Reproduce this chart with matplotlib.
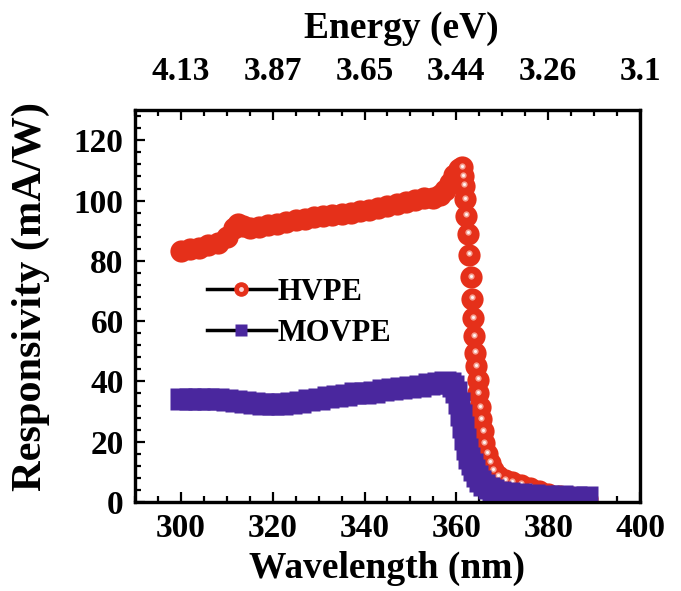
import matplotlib
matplotlib.use("Agg")
import matplotlib.pyplot as plt
import numpy as np
from matplotlib.lines import Line2D
from matplotlib.legend_handler import HandlerTuple
from matplotlib.ticker import MultipleLocator

plt.rcParams["font.family"] = ["Liberation Serif", "DejaVu Serif"]
plt.rcParams["font.weight"] = "bold"

# HVPE responsivity (mA/W) vs wavelength (nm)
hvpe_wl = [300, 302, 304, 306, 308, 310, 311.5, 312.5, 313.5, 315, 317, 319,
           321, 323, 325, 327, 329, 331, 333, 335, 337, 339, 341, 343, 345,
           347, 349, 351, 353, 355, 356.5, 357.5, 358.5, 359.5, 360.5,
           361.2, 361.5, 361.6, 361.9, 362.2, 362.5, 362.8, 363.2, 363.5,
           363.7, 363.9, 364.1, 364.3, 364.6, 364.8, 365.1, 365.4, 365.7,
           366.1, 366.6, 367.3, 368.0, 369.0, 370.5, 372.0, 374.0, 376.0,
           378.0, 380.0, 382.5, 385.0, 388.5]
hvpe_resp = [83.2, 83.8, 84.3, 85.2, 86.0, 88.0, 91.0, 92.3, 91.5, 90.9, 91.3,
             91.8, 92.3, 93.0, 93.5, 94.0, 94.4, 94.8, 95.2, 95.6, 95.9, 96.5,
             97.0, 97.6, 98.1, 98.8, 99.6, 100.3, 100.8, 101.0, 102.0, 103.5,
             106.0, 108.5, 110.5, 111.0, 108.0, 105.0, 100.5, 95.0, 89.0, 82.0,
             74.5, 67.5, 61.0, 55.0, 49.5, 45.0, 40.5, 36.0, 31.5, 27.5, 23.5,
             19.5, 16.0, 13.0, 10.5, 8.5, 7.2, 6.6, 5.8, 4.8, 3.7, 2.8, 2.0,
             1.5, 0.9]

# MOVPE responsivity (mA/W) vs wavelength (nm)
movpe_wl = [300, 302, 304, 306, 308, 310, 312, 314, 316, 318, 320, 322, 324,
            326, 328, 330, 332, 334, 336, 338, 340, 342, 344, 346, 348, 350,
            352, 354, 356, 357.5, 358.5, 359.3, 360.0, 360.6, 361.1, 361.5,
            361.9, 362.3, 362.8, 363.3, 363.9, 364.5, 365.2, 366.0, 367.0,
            368.0, 369.5, 371.5, 374.0, 377.0, 380.0, 383.0, 386.0, 388.5]
movpe_resp = [34.2, 34.2, 34.3, 34.3, 34.3, 33.8, 33.4, 33.1, 32.8, 32.6, 32.5,
              32.6, 32.9, 33.3, 33.8, 34.3, 34.8, 35.2, 35.6, 36.0, 36.3, 36.6,
              37.0, 37.4, 37.8, 38.2, 38.5, 39.0, 39.4, 39.7, 39.5, 38.5, 36.5,
              33.0, 29.0, 25.0, 21.0, 17.5, 14.5, 12.5, 10.5, 8.5, 7.0, 5.8,
              4.8, 4.0, 3.3, 2.9, 2.6, 2.3, 2.1, 1.9, 1.7, 1.5]

wl_ticks = [300, 320, 340, 360, 380, 400]
energy_labels = ["4.13", "3.87", "3.65", "3.44", "3.26", "3.1"]

RED = "#e5301a"
BLUE = "#4a279e"

fig = plt.figure(figsize=(6.81, 5.91), dpi=100)
ax = fig.add_axes([0.198, 0.1506, 0.742, 0.663])

hw = np.array(hvpe_wl)
hr = np.array(hvpe_resp)
ax.plot(hw, hr, ls="none", marker="o", ms=16, mfc=RED, mec="none", zorder=2)
# glossy highlight on the separated circles of the cut-off edge
edge = hw >= 361.2
ax.plot(hw[edge], hr[edge] + 0.5, ls="none", marker="o", ms=4.5,
        mfc="#f7a092", mec="none", zorder=3)
ax.plot(hw[edge], hr[edge] + 0.5, ls="none", marker="o", ms=2.2,
        mfc="#fff4f4", mec="none", zorder=3)

ax.plot(movpe_wl, movpe_resp, ls="none", marker="s", ms=15.5, mfc=BLUE,
        mec="none", zorder=4)

ax.set_xlim(290, 400)
ax.set_ylim(0, 130)
ax.set_xticks(wl_ticks)
ax.xaxis.set_minor_locator(MultipleLocator(5))
ax.yaxis.set_minor_locator(MultipleLocator(4))
ax.set_yticks(range(0, 121, 20))

for s in ax.spines.values():
    s.set_linewidth(2.3)
ax.tick_params(which="both", direction="in", top=False, right=False,
               width=1.6, labelsize=24)
ax.tick_params(which="major", length=7.5)
ax.tick_params(which="minor", length=4.5)
ax.tick_params(axis="x", pad=8)
ax.tick_params(axis="y", pad=8)

ax.set_xlabel("Wavelength (nm)", fontsize=27, fontweight="bold", va="top")
ax.xaxis.set_label_coords(0.5, -0.125)
ax.set_ylabel("Responsivity (mA/W)", fontsize=30.5, fontweight="bold")
ax.yaxis.set_label_coords(-0.168, 0.525)

ax2 = ax.twiny()
ax2.set_xlim(ax.get_xlim())
ax2.set_xticks(wl_ticks)
ax2.set_xticklabels(energy_labels)
ax2.xaxis.set_minor_locator(MultipleLocator(5))
ax2.tick_params(which="both", direction="in", width=1.6, labelsize=24, pad=17)
ax2.tick_params(which="major", length=7.5)
ax2.tick_params(which="minor", length=4.5)
ax2.set_xlabel("Energy (eV)", fontsize=27, fontweight="bold", va="bottom")
ax2.xaxis.set_label_coords(0.527, 1.165)
for s in ax2.spines.values():
    s.set_linewidth(2.3)

h_line = Line2D([], [], color="black", lw=2.5, marker="o", ms=10.5,
                mfc=RED, mec="none")
h_gloss = Line2D([], [], ls="none", marker="o", ms=3.5, mfc="#ffd6d6",
                 mec="none")
m_line = Line2D([], [], color="black", lw=2.5, marker="s", ms=9,
                mfc=BLUE, mec="none")
ax.legend([(h_line, h_gloss), m_line], ["HVPE", "MOVPE"],
          handler_map={tuple: HandlerTuple(ndivide=1)},
          loc="center left", bbox_to_anchor=(0.143, 0.483), frameon=False,
          borderpad=0, borderaxespad=0, handlelength=2.25, handletextpad=0.05,
          labelspacing=0.4, numpoints=1,
          prop={"family": "Liberation Serif", "weight": "bold", "size": 22})

fig.savefig("out.png", dpi=100)
